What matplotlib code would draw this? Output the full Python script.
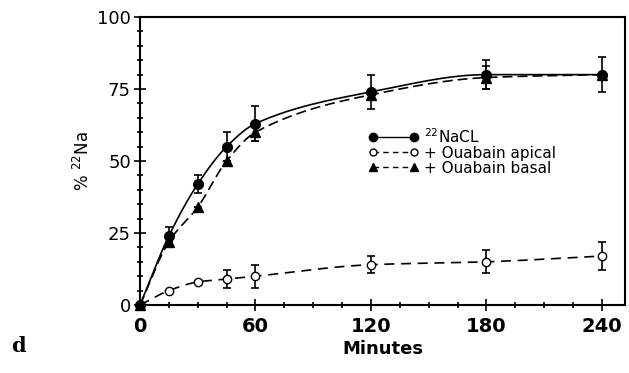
import numpy as np
import matplotlib.pyplot as plt
from matplotlib.ticker import MultipleLocator

minutes = [0, 15, 30, 45, 60, 120, 180, 240]
nacl = [0, 24, 42, 55, 63, 74, 80, 80]
nacl_err = [0, 3, 3, 5, 6, 6, 5, 6]
apical = [0, 5, 8, 9, 10, 14, 15, 17]
apical_err = [0, 0, 0, 3, 4, 3, 4, 5]
basal = [0, 22, 34, 50, 60, 73, 79, 80]
basal_err = [0, 0, 0, 0, 3, 0, 4, 0]


def smooth(x, y, n=300):
    # monotone cubic curve through the points, only for drawing the line
    x = np.asarray(x, float)
    y = np.asarray(y, float)
    h = np.diff(x)
    d = np.diff(y) / h
    m = np.zeros_like(y)
    m[0], m[-1] = d[0], d[-1]
    for i in range(1, len(x) - 1):
        if d[i - 1] * d[i] > 0:
            w1 = 2 * h[i] + h[i - 1]
            w2 = h[i] + 2 * h[i - 1]
            m[i] = (w1 + w2) / (w1 / d[i - 1] + w2 / d[i])
    xs = np.linspace(x[0], x[-1], n)
    k = np.clip(np.searchsorted(x, xs) - 1, 0, len(x) - 2)
    t = (xs - x[k]) / h[k]
    ys = ((2 * t**3 - 3 * t**2 + 1) * y[k] + (t**3 - 2 * t**2 + t) * h[k] * m[k]
          + (-2 * t**3 + 3 * t**2) * y[k + 1] + (t**3 - t**2) * h[k] * m[k + 1])
    return xs, ys


fig = plt.figure(figsize=(6.29, 3.73), dpi=100)
ax = fig.add_axes([0.2226, 0.1823, 0.771, 0.772])

xs, ys = smooth(minutes, nacl)
ax.plot(xs, ys, 'k-', lw=1.2)
xs, ys = smooth(minutes, basal)
ax.plot(xs, ys, 'k--', lw=1.2, dashes=(6, 3))
xs, ys = smooth(minutes, apical)
ax.plot(xs, ys, 'k--', lw=1.2, dashes=(6, 4))

ax.errorbar(minutes, apical, yerr=apical_err, fmt='o', color='k', mfc='white',
            ms=6, capsize=3, elinewidth=1.2, capthick=1.2, zorder=3, clip_on=False)
ax.errorbar(minutes, basal, yerr=basal_err, fmt='^', color='k', ms=7,
            capsize=3, elinewidth=1.2, capthick=1.2, zorder=3, clip_on=False)
ax.errorbar(minutes, nacl, yerr=nacl_err, fmt='o', color='k', ms=7,
            capsize=3, elinewidth=1.2, capthick=1.2, zorder=4, clip_on=False)

# legend handles
h1, = ax.plot([], [], 'k-o', ms=6, lw=1)
h2, = ax.plot([], [], 'k--o', mfc='white', ms=5, lw=1, dashes=(4, 3))
h3, = ax.plot([], [], 'k--^', ms=6, lw=1, dashes=(4, 3))
ax.legend([h1, h2, h3], ['$^{22}$NaCL', '+ Ouabain apical', '+ Ouabain basal'],
          loc='upper left', bbox_to_anchor=(0.455, 0.645), frameon=False,
          numpoints=2, handlelength=3.3, handletextpad=0.35, labelspacing=0.0,
          borderpad=0, prop={'family': 'DejaVu Sans', 'size': 11})

ax.set_xlim(0, 252)
ax.set_ylim(0, 100)
ax.set_xticks([0, 60, 120, 180, 240])
ax.set_yticks([0, 25, 50, 75, 100])
ax.xaxis.set_minor_locator(MultipleLocator(15))
ax.yaxis.set_minor_locator(MultipleLocator(5))
ax.tick_params(which='both', direction='inout', width=1.2)
ax.tick_params(which='major', length=9)
ax.tick_params(which='minor', length=5)
ax.tick_params(axis='x', labelsize=14, pad=4)
ax.tick_params(axis='y', labelsize=13, pad=2)
for lab in ax.get_xticklabels():
    lab.set_fontweight('bold')
for s in ax.spines.values():
    s.set_linewidth(1.5)

ax.set_xlabel('Minutes', fontsize=13, fontweight='bold', labelpad=3)
ax.set_ylabel('% $^{22}$Na', fontsize=12, labelpad=3)
fig.text(0.018, 0.055, 'd', family='DejaVu Serif', fontweight='bold', fontsize=15)

fig.savefig('out.png', dpi=100)
